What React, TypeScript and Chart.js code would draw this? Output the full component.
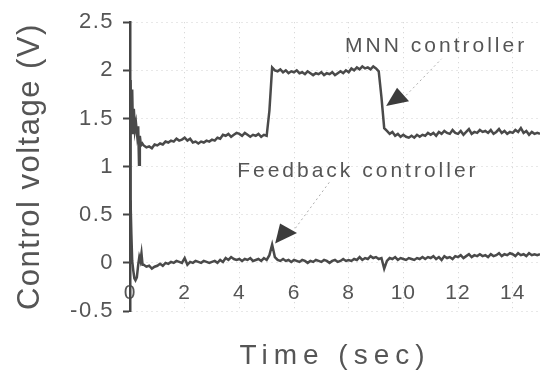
import React, { useEffect, useRef } from 'react';
import { Chart, registerables, LinearScale } from 'chart.js';

Chart.register(...registerables);

// ---- Axis ticks ----
const xTicks = [0, 2, 4, 6, 8, 10, 12, 14];
const yTicks = [-0.5, 0, 0.5, 1, 1.5, 2, 2.5];

// ---- Start transients (sec, V) ----
const mnnStartTime = [0, 0.02, 0.05, 0.08, 0.11, 0.14, 0.18, 0.22, 0.26, 0.3, 0.33, 0.36, 0.4, 0.45];
const mnnStartVolt = [0, 1.9, 1.45, 1.8, 1.35, 1.6, 1.38, 1.45, 1.33, 1.42, 1.02, 1.32, 1.22, 1.24];
const fbStartTime = [0, 0.02, 0.05, 0.08, 0.12, 0.16, 0.2, 0.25, 0.3, 0.34, 0.38, 0.42, 0.46];
const fbStartVolt = [0, 0.65, 0.3, 0.02, -0.08, -0.16, -0.18, -0.15, -0.02, 0.06, 0.02, 0.1, -0.02];

// ---- Sampled body (sec) ----
const sampleTime = [
  0.5, 0.6, 0.7, 0.8, 0.9,
  1.0, 1.1, 1.2, 1.3, 1.4, 1.5, 1.6, 1.7, 1.8, 1.9,
  2.0, 2.1, 2.2, 2.3, 2.4, 2.5, 2.6, 2.7, 2.8, 2.9,
  3.0, 3.1, 3.2, 3.3, 3.4, 3.5, 3.6, 3.7, 3.8, 3.9,
  4.0, 4.1, 4.2, 4.3, 4.4, 4.5, 4.6, 4.7, 4.8, 4.9,
  5.0, 5.1, 5.2, 5.3, 5.4, 5.5, 5.6, 5.7, 5.8, 5.9,
  6.0, 6.1, 6.2, 6.3, 6.4, 6.5, 6.6, 6.7, 6.8, 6.9,
  7.0, 7.1, 7.2, 7.3, 7.4, 7.5, 7.6, 7.7, 7.8, 7.9,
  8.0, 8.1, 8.2, 8.3, 8.4, 8.5, 8.6, 8.7, 8.8, 8.9,
  9.0, 9.1, 9.2, 9.3, 9.4, 9.5, 9.6, 9.7, 9.8, 9.9,
  10.0, 10.1, 10.2, 10.3, 10.4, 10.5, 10.6, 10.7, 10.8, 10.9,
  11.0, 11.1, 11.2, 11.3, 11.4, 11.5, 11.6, 11.7, 11.8, 11.9,
  12.0, 12.1, 12.2, 12.3, 12.4, 12.5, 12.6, 12.7, 12.8, 12.9,
  13.0, 13.1, 13.2, 13.3, 13.4, 13.5, 13.6, 13.7, 13.8, 13.9,
  14.0, 14.1, 14.2, 14.3, 14.4, 14.5, 14.6, 14.7, 14.8, 14.9,
  15.0,
];

// MNN controller voltage (V)
const mnnVolt = [
  1.22, 1.20, 1.21, 1.19, 1.23,
  1.22, 1.24, 1.23, 1.26, 1.25, 1.27, 1.26, 1.29, 1.27, 1.28,
  1.30, 1.27, 1.29, 1.25, 1.26, 1.24, 1.26, 1.25, 1.27, 1.26,
  1.28, 1.27, 1.30, 1.29, 1.33, 1.32, 1.34, 1.31, 1.33, 1.35,
  1.34, 1.32, 1.35, 1.33, 1.31, 1.33, 1.32, 1.34, 1.31, 1.33,
  1.32, 1.58, 2.03, 2.00, 1.99, 2.01, 1.98, 2.00, 1.97, 1.99,
  1.98, 2.00, 1.97, 1.98, 1.96, 1.99, 1.97, 1.95, 1.97, 1.96,
  1.98, 1.95, 1.97, 1.96, 1.98, 1.95, 1.97, 1.99, 1.97, 2.00,
  1.98, 2.02, 2.00, 2.03, 2.01, 2.04, 2.02, 2.03, 2.01, 2.04,
  2.02, 1.99, 1.72, 1.40, 1.37, 1.34, 1.36, 1.32, 1.34, 1.31,
  1.33, 1.31, 1.30, 1.32, 1.30, 1.33, 1.31, 1.33, 1.32, 1.35,
  1.33, 1.35, 1.32, 1.36, 1.34, 1.37, 1.35, 1.34, 1.38, 1.35,
  1.34, 1.37, 1.33, 1.36, 1.39, 1.34, 1.36, 1.35, 1.38, 1.36,
  1.37, 1.35, 1.38, 1.34, 1.36, 1.39, 1.35, 1.37, 1.34, 1.36,
  1.35, 1.38, 1.36, 1.40, 1.35, 1.37, 1.33, 1.36, 1.34, 1.35,
  1.34,
];

// Feedback controller voltage (V)
const fbVolt = [
  -0.02, -0.04, -0.03, -0.06, -0.04,
  -0.03, -0.01, -0.03, 0.00, -0.01, 0.01, 0.00, 0.02, 0.01, 0.00,
  0.05, -0.02, 0.01, 0.00, 0.02, 0.01, 0.00, 0.02, 0.01, 0.00,
  0.01, 0.02, 0.00, 0.03, 0.01, 0.05, 0.03, 0.06, 0.04, 0.03,
  0.04, 0.02, 0.04, 0.03, 0.05, 0.02, 0.03, 0.04, 0.02, 0.05,
  0.03, 0.08, 0.19, 0.06, 0.03, 0.02, 0.04, 0.02, 0.03, 0.01,
  0.03, 0.02, 0.01, 0.03, 0.02, 0.00, 0.02, 0.01, 0.03, 0.02,
  0.01, 0.03, 0.02, 0.00, 0.02, 0.03, 0.01, 0.02, 0.04, 0.02,
  0.03, 0.02, 0.04, 0.03, 0.06, 0.03, 0.05, 0.04, 0.07, 0.05,
  0.06, 0.04, 0.05, -0.06, 0.02, 0.05, 0.04, 0.06, 0.03, 0.05,
  0.04, 0.03, 0.05, 0.04, 0.03, 0.05, 0.04, 0.06, 0.04, 0.06,
  0.05, 0.07, 0.04, 0.06, 0.03, 0.07, 0.05, 0.06, 0.04, 0.07,
  0.06, 0.08, 0.05, 0.07, 0.09, 0.06, 0.08, 0.07, 0.09, 0.07,
  0.08, 0.06, 0.09, 0.07, 0.08, 0.10, 0.07, 0.09, 0.08, 0.10,
  0.09, 0.07, 0.10, 0.08, 0.09, 0.07, 0.10, 0.08, 0.09, 0.08,
  0.09,
];

// ---- Annotations (data coordinates) ----
const labelTexts = ['MNN controller', 'Feedback controller'];
const labelTimes = [7.87, 3.92];
const labelVolts = [2.19, 0.89];
// arrow heads: [tipT, tipV, aT, aV, bT, bV]
const arrowHeads = [
  [9.37, 1.63, 9.77, 1.82, 10.21, 1.68],
  [5.31, 0.20, 5.49, 0.41, 6.11, 0.31],
];
// leader lines: [t1, v1, t2, v2]
const leaderLines = [
  [10.1, 1.74, 11.4, 2.12],
  [6.05, 0.36, 7.3, 0.84],
];

const FONT = '"Liberation Sans", Arial, sans-serif';
const TEXT = '#555555';
const LINE = '#4a4a4a';
const TITLE_SPACING: Record<string, string> = { x: '6px', y: '1.5px' };
const TICK_SPACING: Record<string, string> = { x: '1px', y: '1.5px' };

class SpacedLinearScale extends LinearScale {
  static id = 'spacedLinear';
  drawTitle(chartArea: any) {
    const ctx = this.ctx as any;
    ctx.save();
    ctx.letterSpacing = TITLE_SPACING[this.id as string] || '0px';
    // @ts-ignore
    super.drawTitle(chartArea);
    ctx.restore();
  }
  drawLabels(chartArea: any) {
    const ctx = this.ctx as any;
    ctx.save();
    ctx.letterSpacing = TICK_SPACING[this.id as string] || '0px';
    // @ts-ignore
    super.drawLabels(chartArea);
    ctx.restore();
  }
}
Chart.register(SpacedLinearScale as any);

const annotationPlugin = {
  id: 'annot',
  afterDatasetsDraw(chart: any) {
    const { ctx } = chart;
    const x = chart.scales.x;
    const y = chart.scales.y;
    ctx.save();
    ctx.strokeStyle = 'rgba(110,110,110,0.55)';
    ctx.lineWidth = 1;
    ctx.setLineDash([2, 3]);
    for (const l of leaderLines) {
      ctx.beginPath();
      ctx.moveTo(x.getPixelForValue(l[0]), y.getPixelForValue(l[1]));
      ctx.lineTo(x.getPixelForValue(l[2]), y.getPixelForValue(l[3]));
      ctx.stroke();
    }
    ctx.setLineDash([]);
    ctx.fillStyle = '#3c3c3c';
    for (const a of arrowHeads) {
      ctx.beginPath();
      ctx.moveTo(x.getPixelForValue(a[0]), y.getPixelForValue(a[1]));
      ctx.lineTo(x.getPixelForValue(a[2]), y.getPixelForValue(a[3]));
      ctx.lineTo(x.getPixelForValue(a[4]), y.getPixelForValue(a[5]));
      ctx.closePath();
      ctx.fill();
    }
    ctx.font = `21px ${FONT}`;
    ctx.letterSpacing = '3px';
    ctx.fillStyle = TEXT;
    ctx.textAlign = 'left';
    ctx.textBaseline = 'alphabetic';
    labelTexts.forEach((t, i) => {
      ctx.fillText(t, x.getPixelForValue(labelTimes[i]), y.getPixelForValue(labelVolts[i]));
    });
    ctx.restore();
  },
};

export default function App() {
  const ref = useRef<HTMLCanvasElement>(null);
  useEffect(() => {
    document.body.style.margin = '0';
    const mnnPts = [
      ...mnnStartTime.map((t, i) => ({ x: t, y: mnnStartVolt[i] })),
      ...sampleTime.map((t, i) => ({ x: t, y: mnnVolt[i] })),
    ];
    const fbPts = [
      ...fbStartTime.map((t, i) => ({ x: t, y: fbStartVolt[i] })),
      ...sampleTime.map((t, i) => ({ x: t, y: fbVolt[i] })),
    ];
    const chart = new Chart(ref.current as HTMLCanvasElement, {
      type: 'line',
      data: {
        datasets: [
          { label: 'MNN controller', data: mnnPts, borderColor: LINE, borderWidth: 2.5, pointRadius: 0, tension: 0 },
          { label: 'Feedback controller', data: fbPts, borderColor: LINE, borderWidth: 2.5, pointRadius: 0, tension: 0 },
        ],
      },
      options: {
        animation: false,
        responsive: false,
        devicePixelRatio: 1,
        layout: { padding: { top: 17, right: 0, bottom: 0, left: 0 } },
        plugins: { legend: { display: false }, tooltip: { enabled: false } },
        scales: {
          x: {
            type: 'spacedLinear' as any,
            min: 0,
            max: 15,
            afterBuildTicks: (s: any) => { s.ticks = xTicks.map((v) => ({ value: v })); },
            afterFit: (s: any) => { s.height = 72; },
            ticks: {
              callback: (v: any) => String(v),
              font: { family: FONT, size: 21 },
              color: TEXT,
              mirror: true,
              padding: 5,
              maxRotation: 0,
              autoSkip: false,
            },
            grid: { color: 'rgba(120,120,120,0.35)', lineWidth: 1, drawTicks: false },
            border: { display: false, dash: [1, 4] },
            title: {
              display: true,
              text: 'Time (sec)',
              font: { family: FONT, size: 28 },
              color: TEXT,
              padding: { top: 0, bottom: 10 },
            },
          },
          y: {
            type: 'spacedLinear' as any,
            min: -0.5,
            max: 2.5,
            afterBuildTicks: (s: any) => { s.ticks = yTicks.map((v) => ({ value: v })); },
            afterFit: (s: any) => { s.width = 130; },
            ticks: {
              callback: (v: any) => String(v),
              font: { family: FONT, size: 22 },
              color: TEXT,
              padding: 9,
            },
            grid: { color: 'rgba(120,120,120,0.35)', lineWidth: 1, tickLength: 7, tickColor: '#444', tickWidth: 2 },
            border: { display: true, color: '#444', width: 2.5, dash: [1, 4] },
            title: {
              display: true,
              text: 'Control voltage (V)',
              font: { family: FONT, size: 31 },
              color: TEXT,
              padding: { top: 12, bottom: 0 },
            },
          },
        },
      } as any,
      plugins: [annotationPlugin],
    });
    return () => chart.destroy();
  }, []);
  return (
    <div style={{ width: 540, height: 383, background: '#fff' }}>
      <canvas ref={ref} width={540} height={383} />
    </div>
  );
}
